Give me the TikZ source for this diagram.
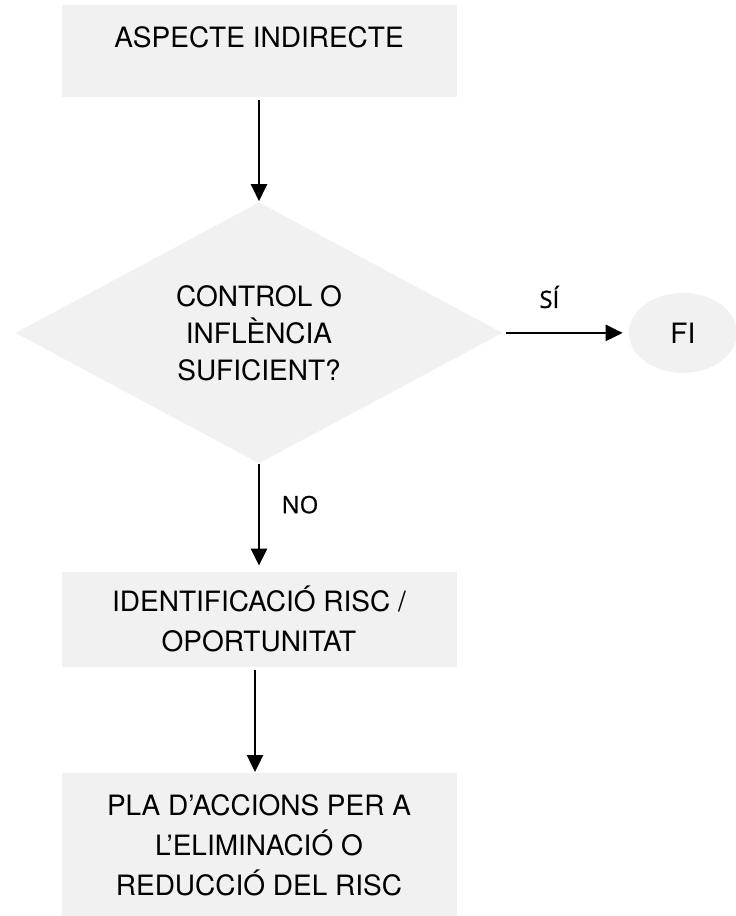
\documentclass[tikz,border=0pt]{standalone}
\usepackage{fontspec}
\setmainfont{TeX Gyre Heros}
\newfontfamily\answerfont{Open Sans}[FakeBold=0.8]
\usetikzlibrary{arrows.meta,positioning,shapes.geometric}
\definecolor{boxgray}{RGB}{241,241,241}

\begin{document}
\begin{tikzpicture}[
    x=1pt, y=1pt,
    node distance=106pt and 128pt,
    box/.style={rectangle, fill=boxgray, align=center, minimum width=395pt, font=\fontsize{28}{40}\selectfont},
    decision/.style={diamond, aspect=2, fill=boxgray, align=center, minimum width=487pt, minimum height=261pt, font=\fontsize{28}{37}\selectfont},
    endpoint/.style={ellipse, fill=boxgray, minimum width=108pt, minimum height=80pt, font=\fontsize{28}{40}\selectfont},
    answer/.style={font=\answerfont\fontsize{24}{28}\selectfont},
    line/.style={-{Triangle[length=17pt, width=16pt]}, line width=2.4pt, shorten <=3pt, shorten >=1pt}
]
\useasboundingbox (0,0) rectangle (736,-916);

\node[box, minimum height=92pt, text height=20pt, text depth=28pt] (aspecte) at (259,-51) {ASPECTE INDIRECTE};
\node[decision, below=105pt of aspecte] (control) {CONTROL O\\INFLÈNCIA\\SUFICIENT?};
\node[endpoint, right=126pt of control] (fi) {FI};
\node[box, minimum height=95pt, below=108pt of control] (risc) {IDENTIFICACIÓ RISC /\\OPORTUNITAT};
\node[box, minimum height=144pt, below=of risc] (pla) {PLA D’ACCIONS PER A\\L’ELIMINACIÓ O\\REDUCCIÓ DEL RISC};

\draw[line] (aspecte) -- (control);
\draw[line, shorten <=3pt, shorten >=6pt] (control.east) -- node[answer, pos=0.37, yshift=36pt] {SÍ} (fi);
\draw[line, shorten <=0pt, shorten >=6pt] (control) -- node[answer, pos=0.38, xshift=41pt] {NO} (risc);
\draw[line] ([xshift=-4pt]risc.south) -- ([xshift=-4pt]pla.north);
\end{tikzpicture}
\end{document}
